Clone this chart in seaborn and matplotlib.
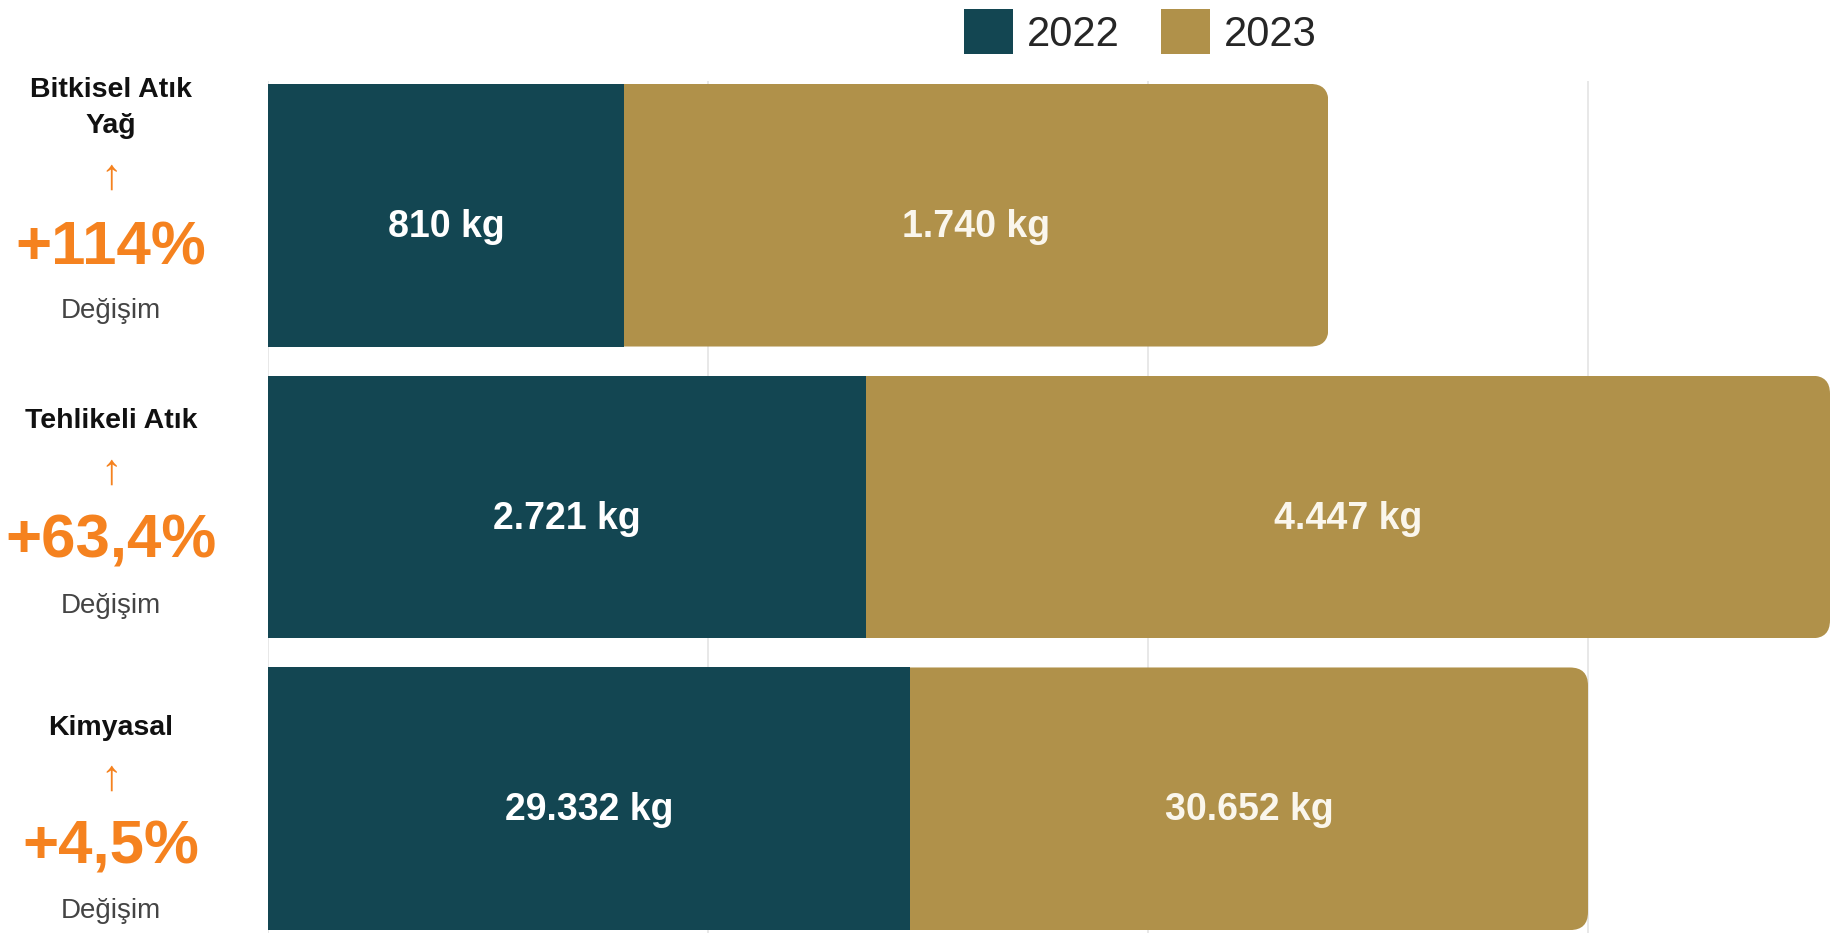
import matplotlib
matplotlib.use("Agg")
import matplotlib.pyplot as plt
import pandas as pd
import seaborn as sns
from matplotlib.patches import FancyBboxPatch

categories = ["Bitkisel Atık Yağ", "Tehlikeli Atık", "Kimyasal"]
row_titles = ["Bitkisel Atık\nYağ", "Tehlikeli Atık", "Kimyasal"]
kg_2022 = [810, 2721, 29332]
kg_2023 = [1740, 4447, 30652]
# bar lengths as drawn in the picture (each row has its own scale)
bar_2022 = [0.81, 1.36, 1.46]
bar_2023 = [1.60, 2.19, 1.54]
changes = ["+114%", "+63,4%", "+4,5%"]
years = ["2022", "2023"]

TEAL = "#134652"
GOLD = "#B0914A"
ORANGE = "#F5821F"

W, H = 1832, 933


def kg(v):
    return f"{v:,} kg".replace(",", ".")


def main():
    sns.set_theme(style="white")
    plt.rcParams["font.family"] = ["Liberation Sans", "DejaVu Sans"]

    df = pd.DataFrame({
        "category": categories,
        "b22": bar_2022,
        "b23": bar_2023,
    })
    df["total"] = df["b22"] + df["b23"]

    fig = plt.figure(figsize=(W / 100, H / 100), dpi=100)
    ax = fig.add_axes([268 / W, 0, 1 - 268 / W, 1 - 81 / H])

    sns.barplot(data=df, x="total", y="category", orient="h", color=GOLD,
                saturation=1, width=0.9, errorbar=None, linewidth=0,
                label=years[1], ax=ax)
    gold = list(ax.patches)
    sns.barplot(data=df, x="b22", y="category", orient="h", color=TEAL,
                saturation=1, width=0.9, errorbar=None, linewidth=0,
                label=years[0], ax=ax)

    ax.set_xlim(0, (W - 268) / 440)
    ax.set_ylim(2.46, -0.46)

    # rounded right end on the stacked bars
    r = 18 / 440
    asp = (18 / 292) / r
    for p in gold:
        box = FancyBboxPatch((p.get_x(), p.get_y()), p.get_width(), p.get_height(),
                             boxstyle=f"round,pad=0,rounding_size={r}",
                             mutation_aspect=asp, transform=ax.transData)
        p.set_clip_path(box)

    dy = 0.04
    for i in range(len(categories)):
        ax.text(bar_2022[i] / 2, i + dy, kg(kg_2022[i]), ha="center", va="center",
                color="white", fontsize=27, fontweight="bold")
        ax.text(bar_2022[i] + bar_2023[i] / 2, i + dy, kg(kg_2023[i]), ha="center",
                va="center", color="#FAF6EC", fontsize=27, fontweight="bold")

    ax.set_xticks([0, 1, 2, 3])
    ax.set_xticklabels([])
    ax.set_yticks([])
    ax.set_xlabel("")
    ax.set_ylabel("")
    ax.grid(axis="x", color="#E4E4E4", linewidth=1.2)
    ax.set_axisbelow(True)
    for s in ax.spines.values():
        s.set_visible(False)

    handles, labels = ax.get_legend_handles_labels()
    order = [labels.index(y) for y in years]
    ax.legend([handles[k] for k in order], years, loc="upper left",
              bbox_to_anchor=(964 / W, 1 - 9 / H), bbox_transform=fig.transFigure,
              ncol=2, frameon=False, fontsize=30, borderpad=0, borderaxespad=0,
              handlelength=1.17, handleheight=1.3, handletextpad=0.33,
              columnspacing=1.0)

    # left-hand annotations (y in pixels from top)
    cx = 111 / W
    title_y = [108, 421, 728]
    arrow_y = [178, 473, 779]
    pct_y = [249, 542, 848]
    note_y = [311, 606, 911]
    for i in range(len(categories)):
        fig.text(cx, 1 - title_y[i] / H, row_titles[i], ha="center", va="center",
                 fontsize=20.5, fontweight="bold", color="#111111", linespacing=1.5)
        fig.text(cx, 1 - arrow_y[i] / H, "↑", ha="center", va="center",
                 fontsize=31, color=ORANGE)
        fig.text(cx, 1 - pct_y[i] / H, changes[i], ha="center", va="center",
                 fontsize=44.5, fontweight="bold", color=ORANGE)
        fig.text(cx, 1 - note_y[i] / H, "Değişim", ha="center", va="center",
                 fontsize=20, color="#444444")

    fig.savefig("out.png", dpi=100, facecolor="white")
    plt.close(fig)


if __name__ == "__main__":
    main()
